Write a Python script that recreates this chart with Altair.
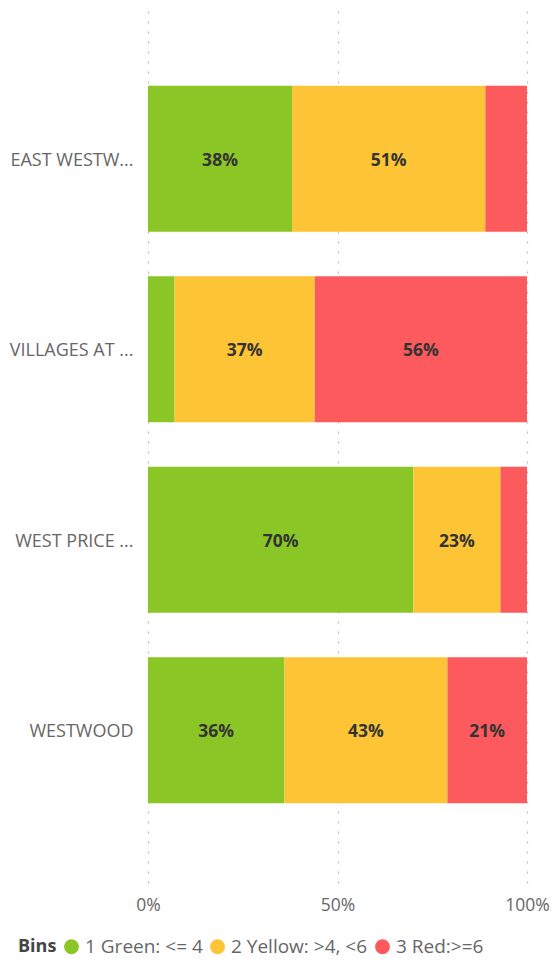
import altair as alt
import pandas as pd

areas = ["EAST WESTW...", "VILLAGES AT ...", "WEST PRICE ...", "WESTWOOD"]
bins = ["1 Green: <= 4", "2 Yellow: >4, <6", "3 Red:>=6"]
green = [0.38, 0.07, 0.70, 0.36]
yellow = [0.51, 0.37, 0.23, 0.43]
red = [0.11, 0.56, 0.07, 0.21]
colors = ["#8AC626", "#FDC535", "#FD5A5E"]

rows = []
for i, a in enumerate(areas):
    start = 0.0
    for j, (b, vals) in enumerate(zip(bins, [green, yellow, red])):
        v = vals[i]
        rows.append({"area": a, "bin": b, "order": j, "v": v,
                     "mid": start + v / 2,
                     "label": f"{round(v * 100):d}%" if v >= 0.15 else ""})
        start += v
df = pd.DataFrame(rows)

font = "Open Sans"

base = alt.Chart(df)
bars = base.mark_bar().encode(
    y=alt.Y("area:N", sort=areas, title=None,
            scale=alt.Scale(paddingInner=0.233, paddingOuter=0.418),
            axis=alt.Axis(labelFont=font, labelFontSize=18, labelColor="#666666",
                          labelPadding=15, labelOffset=2, domain=False, ticks=False,
                          grid=False, labelLimit=200)),
    x=alt.X("v:Q", stack="zero", title=None,
            scale=alt.Scale(domain=[0, 1], nice=False),
            axis=alt.Axis(values=[0, 0.5, 1], format=".0%", labelFont=font,
                          labelFontSize=17.5, labelColor="#666666", labelPadding=13,
                          labelFlush=False,
                          domain=False, ticks=False, grid=True, gridColor="#BBBBBB",
                          gridDash=[2, 8], gridWidth=1.2)),
    color=alt.Color("bin:N", sort=bins,
                    scale=alt.Scale(domain=bins, range=colors),
                    legend=alt.Legend(title="Bins", orient="none", direction="horizontal",
                                      legendX=-130, legendY=931,
                                      titleOrient="left", titleFont=font, titleFontSize=18,
                                      titleFontWeight="bold", titleColor="#444444",
                                      titlePadding=5,
                                      labelFont=font, labelFontSize=19, labelColor="#666666",
                                      symbolType="circle", symbolSize=220, symbolStrokeWidth=0,
                                      symbolOpacity=1, labelOffset=4, columnPadding=5,
                                      labelLimit=300)),
    order=alt.Order("order:Q"),
)

text = base.mark_text(font=font, fontSize=17.5, fontWeight="bold", color="#333333",
                      dy=2).encode(
    y=alt.Y("area:N", sort=areas),
    x=alt.X("mid:Q"),
    text="label:N",
)

chart = alt.layer(bars, text).properties(
    width=379, height=877,
    autosize=alt.AutoSizeParams(type="none"),
    padding={"left": 148, "top": 6, "right": 25, "bottom": 79},
).configure_view(stroke=None)

chart.save("out.html", embed_options={"renderer": "svg", "actions": False})
